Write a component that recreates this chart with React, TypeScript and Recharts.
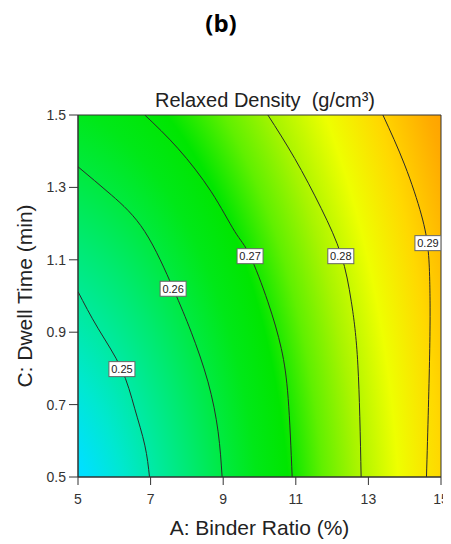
import React from "react";
import {
  ComposedChart,
  Line,
  Scatter,
  XAxis,
  YAxis,
  ReferenceArea,
} from "recharts";

// contour lines: A = binder ratio (%), C = dwell time (min)
const contour025 = [
  { a: 5.0, c: 1.012 },
  { a: 5.55, c: 0.911 },
  { a: 6.19, c: 0.8 },
  { a: 6.56, c: 0.69 },
  { a: 6.84, c: 0.588 },
  { a: 6.97, c: 0.5 },
];
const contour026 = [
  { a: 5.0, c: 1.357 },
  { a: 5.92, c: 1.279 },
  { a: 6.84, c: 1.178 },
  { a: 7.62, c: 1.021 },
  { a: 8.12, c: 0.9 },
  { a: 8.58, c: 0.763 },
  { a: 8.86, c: 0.625 },
  { a: 8.97, c: 0.5 },
];
const contour027 = [
  { a: 6.84, c: 1.5 },
  { a: 7.75, c: 1.408 },
  { a: 8.67, c: 1.288 },
  { a: 9.32, c: 1.178 },
  { a: 9.73, c: 1.113 },
  { a: 10.23, c: 0.984 },
  { a: 10.6, c: 0.855 },
  { a: 10.79, c: 0.717 },
  { a: 10.9, c: 0.5 },
];
const contour028 = [
  { a: 10.23, c: 1.5 },
  { a: 10.97, c: 1.38 },
  { a: 11.7, c: 1.242 },
  { a: 12.25, c: 1.113 },
  { a: 12.53, c: 0.984 },
  { a: 12.71, c: 0.809 },
  { a: 12.8, c: 0.5 },
];
const contour029 = [
  { a: 13.4, c: 1.5 },
  { a: 14.0, c: 1.362 },
  { a: 14.46, c: 1.224 },
  { a: 14.64, c: 1.132 },
  { a: 14.69, c: 1.04 },
  { a: 14.69, c: 0.855 },
  { a: 14.6, c: 0.5 },
];
const contours = [contour025, contour026, contour027, contour028, contour029];

const levels = ["0.25", "0.26", "0.27", "0.28", "0.29"];
const labelA = [6.21, 7.62, 9.74, 12.24, 14.64];
const labelC = [0.798, 1.02, 1.11, 1.11, 1.146];

const xTicks = [5, 7, 9, 11, 13, 15];
const yTicks = [0.5, 0.7, 0.9, 1.1, 1.3, 1.5];

// colour ramp of the response surface (cyan -> green -> yellow -> orange)
const rampOffsets = [
  0, 0.15, 0.219, 0.285, 0.354, 0.421, 0.485, 0.55, 0.621, 0.692, 0.777,
  0.865, 0.958, 1,
];
const rampColors = [
  "#00d8ff",
  "#00e0ff",
  "#00e8d0",
  "#00eaa0",
  "#00ea70",
  "#00ea40",
  "#00e818",
  "#00e600",
  "#60f000",
  "#a8f400",
  "#eeff00",
  "#ffd800",
  "#ffaa00",
  "#ff9c00",
];

const labelData = levels.map((v, i) => ({ a: labelA[i], c: labelC[i], v }));

const FONT = "'Liberation Sans', Arial, sans-serif";

const LevelTag = (props: any) => {
  const { cx, cy, payload } = props;
  const w = 26;
  const h = 15;
  return (
    <g>
      <rect
        x={cx - w / 2}
        y={cy - h / 2}
        width={w}
        height={h}
        fill="#fff"
        stroke="#666"
        strokeWidth={1}
      />
      <text
        x={cx}
        y={cy + 4}
        textAnchor="middle"
        fontSize={11}
        fontFamily={FONT}
        fill="#222"
      >
        {payload.v}
      </text>
    </g>
  );
};

export default function App() {
  return (
    <div style={{ position: "relative", width: 443, height: 536 }}>
      <style>{"html{overflow:hidden} .recharts-surface{overflow:visible}"}</style>
      <svg width={0} height={0} style={{ position: "absolute" }}>
        <defs>
          <radialGradient
            id="field"
            gradientUnits="objectBoundingBox"
            cx={0}
            cy={0}
            r={1}
            gradientTransform="translate(-0.138 1.243) scale(1.322 2.652)"
          >
            {rampOffsets.map((o, i) => (
              <stop key={i} offset={o} stopColor={rampColors[i]} />
            ))}
          </radialGradient>
        </defs>
      </svg>

      <div
        style={{
          position: "absolute",
          left: 0,
          width: 426,
          top: 0,
          textAlign: "center",
          fontFamily: "'Open Sans', sans-serif",
          fontWeight: 700,
          fontSize: 24,
          lineHeight: "30px",
        }}
      >
        (b)
      </div>
      <div
        style={{
          position: "absolute",
          left: 0,
          width: 514,
          top: 81,
          textAlign: "center",
          fontFamily: FONT,
          fontSize: 20,
          color: "#222",
          lineHeight: "22px",
        }}
      >
        Relaxed Density{"\u00a0 "}(g/cm³)
      </div>

      <ComposedChart
        width={443}
        height={536}
        margin={{ top: 107, right: 10, left: 0, bottom: 0 }}
      >
        <XAxis
          type="number"
          dataKey="a"
          domain={[5, 15]}
          ticks={xTicks}
          allowDataOverflow
          stroke="#333"
          tickSize={8}
          tickMargin={9}
          height={67}
          interval={0}
          tick={{ fontSize: 14, fill: "#333", fontFamily: FONT }}
          label={{
            value: "A: Binder Ratio (%)",
            position: "insideBottom",
            offset: 9,
            style: { fontSize: 21, fill: "#222", fontFamily: FONT },
          }}
        />
        <YAxis
          type="number"
          dataKey="c"
          domain={[0.5, 1.5]}
          ticks={yTicks}
          allowDataOverflow
          stroke="#333"
          tickSize={9}
          tickMargin={3}
          width={70}
          interval={0}
          tickFormatter={(v: number) => v.toFixed(1)}
          tick={{ fontSize: 14, fill: "#333", fontFamily: FONT }}
          label={{
            value: "C: Dwell Time (min)",
            angle: -90,
            position: "insideLeft",
            offset: 17,
            style: {
              fontSize: 21,
              fill: "#222",
              fontFamily: FONT,
              textAnchor: "middle",
            },
          }}
        />
        <ReferenceArea
          x1={5}
          x2={15}
          y1={0.5}
          y2={1.5}
          fill="url(#field)"
          fillOpacity={1}
          stroke="#333"
          strokeWidth={1}
        />
        {contours.map((d, i) => (
          <Line
            key={levels[i]}
            data={d}
            dataKey="c"
            type="natural"
            stroke="#2a2a2a"
            strokeWidth={1}
            dot={false}
            activeDot={false}
            isAnimationActive={false}
          />
        ))}
        <Scatter
          data={labelData}
          dataKey="c"
          shape={LevelTag}
          isAnimationActive={false}
        />
      </ComposedChart>
    </div>
  );
}
